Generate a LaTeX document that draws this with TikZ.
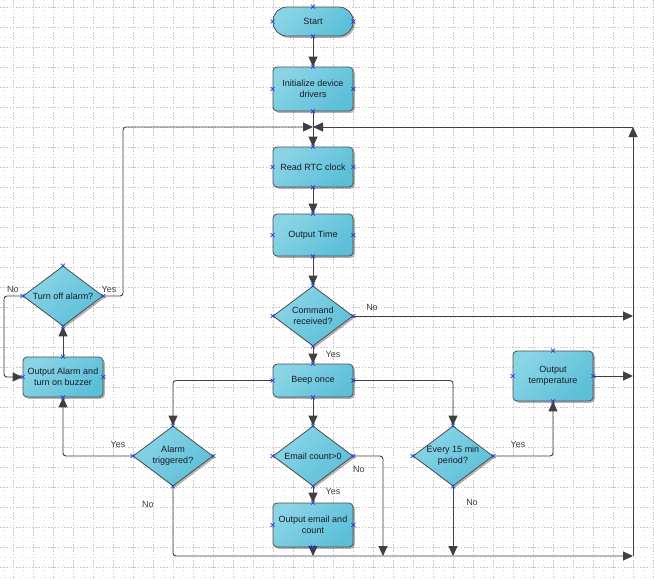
\documentclass[tikz,border=0pt]{standalone}
\usepackage{fontspec}
\setmainfont{Liberation Sans}
\usetikzlibrary{arrows.meta,shapes.geometric,shadows}
\definecolor{lineC}{HTML}{404040}
\definecolor{fillA}{HTML}{8AD4E6}
\definecolor{fillB}{HTML}{5CBFD8}
\definecolor{borderC}{HTML}{4F4F4F}
\definecolor{gridC}{HTML}{CACACA}
\definecolor{txtC}{HTML}{1A1A24}
\definecolor{markC}{HTML}{1F3FE0}
\begin{document}
\begin{tikzpicture}[x=1pt,y=-1pt,
 every node/.style={font=\fontsize{9}{11}\selectfont, text=txtC},
 base/.style={draw=borderC, line width=0.8pt, top color=fillA, bottom color=fillB, shading angle=45,
   drop shadow={shadow xshift=1.8pt, shadow yshift=-1.8pt, fill=black, opacity=0.3},
   inner sep=0pt, align=center},
 proc/.style={base, rectangle, rounded corners=4pt, minimum width=80pt},
 term/.style={base, rectangle, rounded corners=14pt, minimum width=80pt, minimum height=29pt},
 dec/.style={base, diamond, aspect=1.3333, minimum width=80pt, minimum height=60pt},
 conn/.style={draw=lineC, line width=0.9pt, rounded corners=3pt, -{Triangle[length=10pt,width=9pt]}},
 lbl/.style={font=\fontsize{9}{11}\selectfont, text=black!75, inner sep=0pt},
 xmk/.style={draw=markC, line width=0.6pt},
]
\useasboundingbox (0,0) rectangle (654,579);
\fill[white] (0,0) rectangle (654,579);
% grid
\foreach \x in {3,23,...,653} \draw[gridC!60, line width=0.5pt, dash pattern=on 0.7pt off 4.3pt] (\x,0) -- (\x,579);
\foreach \y in {17,37,...,577} \draw[gridC!60, line width=0.5pt, dash pattern=on 0.7pt off 4.3pt] (0,\y) -- (654,\y);
\foreach \x in {13,33,...,653} \draw[gridC, line width=0.5pt, dash pattern=on 1.6pt off 1.6pt] (\x,0) -- (\x,579);
\foreach \y in {7,27,...,567} \draw[gridC, line width=0.5pt, dash pattern=on 1.6pt off 1.6pt] (0,\y) -- (654,\y);

% nodes
\node[term] (start) at (313,21.5) {Start};
\node[proc, minimum height=44pt] (init) at (313,89) {Initialize device\\drivers};
\node[proc, minimum height=40pt] (read) at (313,167) {Read RTC clock};
\node[proc, minimum height=42pt] (otime) at (313,235) {Output Time};
\node[dec] (cmd) at (313,316) {Command\\received?};
\node[proc, minimum height=33pt] (beep) at (313,380.5) {Beep once};
\node[dec] (turn) at (63,296) {Turn off alarm?};
\node[proc, minimum height=40pt] (oalarm) at (63,377) {Output Alarm and\\turn on buzzer};
\node[dec] (alarm) at (173,456) {Alarm\\triggered?};
\node[dec] (email) at (313,456) {Email count>0};
\node[proc, minimum height=44pt] (oemail) at (313,525) {Output email and\\count};
\node[dec] (every) at (453,456) {Every 15 min\\period?};
\node[proc, minimum height=50pt] (otemp) at (553,376) {Output\\temperature};

% coordinates
\coordinate (J) at (313,127);
\coordinate (RT) at (633,127);
\coordinate (RB) at (633,556);
\coordinate (Rcmd) at (633,316);
\coordinate (Rtemp) at (633,376);
\coordinate (LT) at (123,127);

% connectors
\draw[conn] (start.south) -- (init.north);
\draw[conn] (init.south) -- (read.north);
\draw[conn] (read.south) -- (otime.north);
\draw[conn] (otime.south) -- (cmd.north);
\draw[conn] (cmd.south) -- (beep.north);
\draw[conn] (cmd.east) -- (Rcmd);
\draw[conn] (beep.west) -| (alarm.north);
\draw[conn] (beep.south) -- (email.north);
\draw[conn] (beep.east) -| (every.north);
\draw[conn] (email.south) -- (oemail.north);
\draw[conn] (email.east) -- (383,456) -- (383,556);
\draw[conn] (oemail.south) -- (313,556);
\draw[conn] (every.south) -- (453,556);
\draw[conn] (every.east) -| (otemp.south);
\draw[conn] (otemp.east) -- (Rtemp);
\draw[conn] (alarm.west) -| (oalarm.south);
\draw[conn] (alarm.south) |- (RB);
\draw[conn] (RB) -- (RT);
\draw[conn, rounded corners=0pt] (RT) -- (J);
\draw[conn] (turn.east) -- (123,296) -- (LT) -- (J);
\draw[conn] (turn.west) -- (4,296) -- (4,377) -- (oalarm.west);
\draw[conn] (oalarm.north) -- (turn.south);

% labels
\node[lbl] at (372,307.5) {No};
\node[lbl] at (333,354) {Yes};
\node[lbl] at (13,289) {No};
\node[lbl] at (109,289) {Yes};
\node[lbl] at (118,444) {Yes};
\node[lbl] at (148,504) {No};
\node[lbl] at (333,491) {Yes};
\node[lbl] at (359,469) {No};
\node[lbl] at (472,502.5) {No};
\node[lbl] at (518,444) {Yes};

% connection markers
\foreach \n in {start,init,read,otime,cmd,beep,turn,oalarm,alarm,email,oemail,every,otemp}
  \foreach \a in {north,south,east,west}
    \draw[xmk] (\n.\a) +(-2,-2) -- +(2,2) +(-2,2) -- +(2,-2);
\end{tikzpicture}
\end{document}
